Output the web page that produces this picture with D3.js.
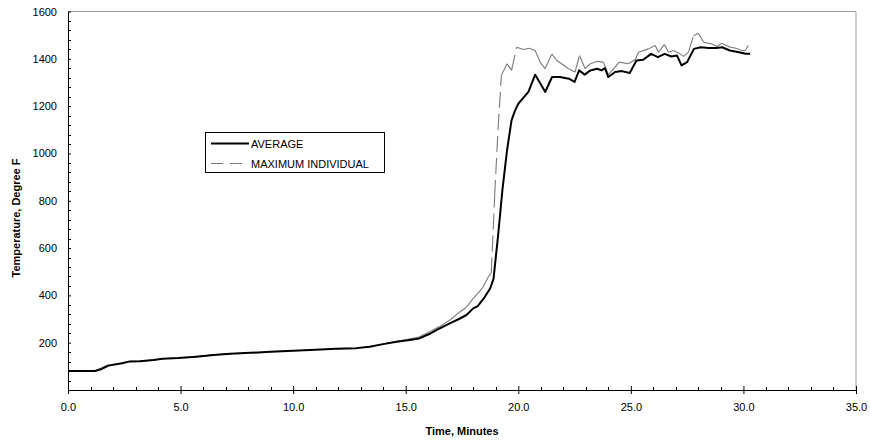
<!DOCTYPE html>
<html><head><meta charset="utf-8">
<script src="https://cdn.jsdelivr.net/npm/d3@7"></script>
<style>
html,body{margin:0;padding:0;background:#fff;}
text{font-family:"Liberation Sans",Arial,sans-serif;}
</style></head>
<body>
<svg id="chart" width="870" height="440"></svg>
<script>
// ---- data ----
const avgTime = [0,1.2,1.5,1.8,2.4,2.75,3.2,3.8,4.2,4.9,5.7,6.45,7.2,8.1,9.0,10.0,11.0,11.9,12.8,13.4,14.0,14.6,15.1,15.6,16.1,16.5,17.0,17.3,17.7,18.0,18.2,18.5,18.75,18.9,19.1,19.3,19.5,19.7,19.85,20.0,20.25,20.45,20.75,21.2,21.5,21.85,22.25,22.5,22.7,22.95,23.2,23.5,23.7,23.85,24.0,24.3,24.6,24.95,25.25,25.55,25.9,26.2,26.5,26.8,27.05,27.25,27.5,27.8,28.1,28.45,28.8,29.05,29.4,29.8,30.1,30.3];
const avgTemp = [80,80,89,103,113,121,122,127,132,135,141,148,153,157,162,166,170,174,177,183,194,204,210,218,239,260,284,297,317,345,355,392,429,470,650,850,1013,1140,1180,1210,1238,1260,1333,1260,1323,1323,1316,1302,1351,1333,1351,1358,1351,1361,1323,1344,1348,1340,1393,1396,1421,1407,1421,1410,1414,1372,1386,1442,1449,1446,1446,1449,1435,1428,1421,1421];
const maxTime = [0,1.2,1.7,2.4,2.75,3.2,3.8,4.2,4.9,5.7,6.45,7.2,8.1,9.0,10.0,11.0,11.9,12.8,13.4,14.0,14.6,15.1,15.6,16.1,16.5,17.0,17.4,17.7,18.0,18.4,18.67,18.8,18.95,19.1,19.25,19.5,19.7,19.93,20.23,20.5,20.75,20.97,21.19,21.49,21.71,21.93,22.23,22.52,22.72,22.97,23.19,23.49,23.78,24.0,24.3,24.48,24.89,25.19,25.34,25.78,26.08,26.23,26.49,26.67,26.89,27.19,27.34,27.56,27.78,28.0,28.23,28.6,28.82,29.04,29.41,29.63,29.93,30.08,30.22];
const maxTemp = [80,80,104,114,121,122,127,132,135,141,148,153,157,162,166,170,174,177,183,195,206,214,224,248,268,298,330,350,387,430,478,493,820,1100,1330,1379,1351,1449,1439,1445,1435,1386,1358,1421,1393,1379,1358,1344,1414,1358,1379,1389,1386,1333,1365,1386,1379,1396,1428,1442,1456,1428,1460,1428,1435,1421,1410,1428,1498,1508,1470,1463,1452,1466,1449,1446,1435,1435,1456];
const xTicks = [0,5,10,15,20,25,30,35];
const yTicks = [200,400,600,800,1000,1200,1400,1600];
const seriesNames = ["AVERAGE","MAXIMUM INDIVIDUAL"];
const xTitle = "Time, Minutes";
const yTitle = "Temperature, Degree F";

// ---- layout ----
const svg = d3.select("#chart");
const L = 68, R = 856, T = 11.5, B = 390;
const x = d3.scaleLinear().domain([0,35]).range([L,R]);
const y = d3.scaleLinear().domain([0,1600]).range([B,T]);

// plot border (top/right gray)
svg.append("path").attr("d",`M${L},${T}H${R}V${B}`).attr("fill","none").attr("stroke","#999").attr("stroke-width",1);

// minor ticks
const xMinor = d3.range(0,36,1).filter(v=>v%5!==0);
svg.selectAll(".xm").data(xMinor).join("line")
  .attr("x1",d=>Math.round(x(d))+0.5).attr("x2",d=>Math.round(x(d))+0.5)
  .attr("y1",B-3).attr("y2",B).attr("stroke","#000");
const yMinor = d3.range(0,1601,40).filter(v=>v%200!==0);
svg.selectAll(".ym").data(yMinor).join("line")
  .attr("x1",L).attr("x2",L+3)
  .attr("y1",d=>Math.round(y(d))+0.5).attr("y2",d=>Math.round(y(d))+0.5).attr("stroke","#000");

// x axis
const xAxis = svg.append("g").attr("transform",`translate(0,${B})`)
  .call(d3.axisBottom(x).tickValues(xTicks).tickFormat(d3.format(".1f")).tickSizeInner(4).tickSizeOuter(0).tickPadding(9));
xAxis.select(".domain").attr("stroke","#000");
xAxis.selectAll(".tick line").attr("y1",-4).attr("stroke","#000");
xAxis.selectAll("text").attr("font-size",11).attr("fill","#000").attr("font-family","Liberation Sans, Arial, sans-serif");

// y axis
const yAxis = svg.append("g").attr("transform",`translate(${L},0)`)
  .call(d3.axisLeft(y).tickValues(yTicks).tickFormat(d3.format("d")).tickSizeInner(4).tickSizeOuter(0).tickPadding(7));
yAxis.select(".domain").attr("stroke","#000");
yAxis.selectAll(".tick line").attr("x2",3).attr("stroke","#000");
yAxis.selectAll("text").attr("font-size",11).attr("fill","#000").attr("font-family","Liberation Sans, Arial, sans-serif");

// axis titles
svg.append("text").attr("x",(L+R)/2).attr("y",435).attr("text-anchor","middle")
  .attr("font-size",11).attr("font-weight","bold").text(xTitle);
svg.append("text").attr("transform","translate(20,218) rotate(-90)").attr("text-anchor","middle")
  .attr("font-size",11).attr("font-weight","bold").text(yTitle);

// max individual series: dashed, dash restarts per segment (like Excel)
const maxPts = maxTime.map((t,i)=>[x(t),y(maxTemp[i])]);
const segs = d3.pairs(maxPts);
svg.append("g").selectAll("line").data(segs).join("line")
  .attr("x1",d=>d[0][0]).attr("y1",d=>d[0][1]).attr("x2",d=>d[1][0]).attr("y2",d=>d[1][1])
  .attr("stroke","#7a7a7a").attr("stroke-width",1.1).attr("stroke-dasharray","16,6").attr("stroke-linecap","butt");

// average series
const line = d3.line().x(d=>x(d[0])).y(d=>y(d[1]));
svg.append("path").datum(avgTime.map((t,i)=>[t,avgTemp[i]]))
  .attr("d",line).attr("fill","none").attr("stroke","#000").attr("stroke-width",2).attr("stroke-linejoin","round");

// legend
const lg = svg.append("g");
lg.append("rect").attr("x",205.5).attr("y",132.5).attr("width",179).attr("height",40)
  .attr("fill","#fff").attr("stroke","#000").attr("stroke-width",1);
lg.append("line").attr("x1",211).attr("x2",249).attr("y1",143.5).attr("y2",143.5).attr("stroke","#000").attr("stroke-width",2);
lg.append("line").attr("x1",211).attr("x2",249).attr("y1",163.5).attr("y2",163.5).attr("stroke","#7a7a7a").attr("stroke-width",1.1).attr("stroke-dasharray","12,7");
lg.append("text").attr("x",251).attr("y",147.5).attr("font-size",11).text(seriesNames[0]);
lg.append("text").attr("x",251).attr("y",167.5).attr("font-size",11).text(seriesNames[1]);
</script>
</body></html>
